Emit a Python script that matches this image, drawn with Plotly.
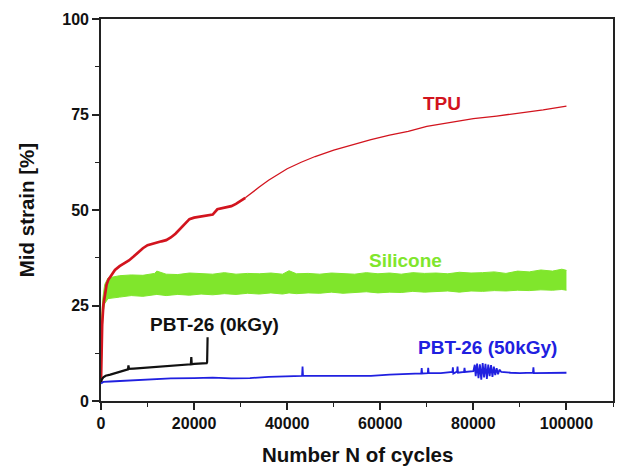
import plotly.graph_objects as go

# ---------------- data ----------------
tpu_noisy_x = [0, 100, 250, 500, 800, 1200, 1600, 2200, 3000, 4000, 5000, 6000, 7000, 8000,
               9000, 10000, 11000, 12000, 13000, 14000, 15000, 16000, 17000, 18000, 19000,
               20000, 21000, 22000, 23000, 24000, 25000, 26000, 27000, 28000, 29000, 30000, 31000]
tpu_noisy_y = [5, 14, 20, 25, 28, 30.5, 31.8, 33, 34.3, 35.3, 36, 36.8, 37.8, 39,
               40, 40.8, 41.2, 41.5, 41.8, 42.1, 42.8, 43.8, 45, 46.3, 47.6,
               48, 48.2, 48.4, 48.5, 48.8, 50.2, 50.5, 50.7, 51, 51.6, 52.3, 53.2]
tpu_smooth_x = [31000, 32000, 34000, 36000, 38000, 40000, 43000, 46000, 50000, 54000, 58000,
                62000, 66000, 70000, 75000, 80000, 85000, 90000, 95000, 100000]
tpu_smooth_y = [53.2, 54.2, 56, 57.8, 59.4, 60.8, 62.5, 64, 65.7, 67.1, 68.4,
                69.6, 70.6, 71.9, 73, 73.9, 74.6, 75.4, 76.2, 77.2]

sil_x = [0, 150, 400, 800, 1500, 4000, 6500, 9000, 11500, 12000, 14000, 16500, 19000, 21500,
         24000, 26500, 29000, 31500, 34000, 36500, 39000, 40400, 42000, 44500, 47000, 49500,
         52000, 54500, 57000, 59500, 62000, 64500, 67000, 69500, 72000, 74500, 77000, 79500,
         82000, 84500, 87000, 89500, 92000, 94500, 97000, 99000, 100000]
sil_hi = [5, 22, 27, 30.5, 32.2, 32.8, 33.0, 32.9, 33.4, 34.0, 33.2, 33.1, 33.5, 33.3,
          33.2, 33.6, 33.2, 33.4, 33.3, 33.5, 33.2, 34.1, 33.3, 33.4, 33.2, 33.5,
          33.3, 33.2, 33.6, 33.3, 33.5, 33.2, 33.6, 33.4, 33.5, 33.3, 33.7, 33.5,
          33.6, 33.8, 33.4, 34.0, 33.8, 34.3, 34.0, 34.5, 34.2]
sil_lo = [5, 16, 23, 25.5, 26.8, 27.2, 27.6, 27.4, 27.8, 27.9, 27.6, 27.9, 27.7, 28.0,
          27.8, 28.1, 27.9, 28.2, 28.0, 28.3, 28.0, 28.3, 28.1, 28.3, 28.2, 28.5,
          28.2, 28.4, 28.6, 28.3, 28.5, 28.4, 28.7, 28.5, 28.6, 28.8, 28.5, 28.8,
          28.7, 28.9, 28.8, 29.0, 28.9, 29.1, 29.0, 29.2, 29.0]

pbt0_x = [0, 150, 500, 1000, 2000, 3000, 4000, 5000, 5800, 5900, 6000, 7000, 8000, 9000,
          10000, 11000, 12000, 13000, 14000, 15000, 16000, 17000, 18000, 19300, 19400, 19500,
          20000, 21000, 22000, 22700, 22800, 22900]
pbt0_y = [5, 5.6, 6.2, 6.6, 6.9, 7.3, 7.7, 8.0, 8.3, 9.3, 8.4, 8.5, 8.6, 8.6,
          8.8, 8.9, 9.0, 9.0, 9.1, 9.3, 9.4, 9.4, 9.5, 9.6, 11.5, 9.6,
          9.7, 9.8, 9.8, 9.9, 10.2, 16.7]

pbt50_x = [0, 500, 2000, 5000, 10000, 15000, 20000, 24000, 28000, 32000, 36000, 40000,
           43200, 43300, 43400, 46000, 50000, 54000, 58000, 62000, 66000, 68800, 68900, 69000,
           70200, 70300, 70400, 73000, 75500, 75600, 75700, 76500, 76600, 76700, 78000, 78100,
           78200, 80000, 80300, 80500, 80800, 81100, 81400, 81700, 82000, 82300, 82600, 82900,
           83200, 83500, 83800, 84100, 84400, 84700, 85000, 85300, 85600, 86000, 88000, 90000,
           92800, 92900, 93000, 96000, 100000]
pbt50_y = [4.6, 5.0, 5.1, 5.3, 5.6, 5.9, 6.0, 6.1, 5.9, 6.0, 6.3, 6.5,
           6.6, 9.0, 6.6, 6.6, 6.6, 6.5, 6.6, 6.9, 7.1, 7.2, 8.6, 7.2,
           7.3, 8.7, 7.3, 7.3, 7.6, 8.8, 7.2, 7.7, 9.0, 7.4, 7.6, 8.7,
           7.6, 7.8, 9.5, 6.5, 9.8, 6.0, 9.6, 5.6, 9.9, 6.2, 9.7, 5.8,
           9.5, 6.5, 9.4, 6.3, 9.0, 6.8, 8.6, 7.0, 8.2, 7.6, 7.4, 7.3,
           7.4, 8.8, 7.3, 7.3, 7.4]

x_ticks = [0, 20000, 40000, 60000, 80000, 100000]
x_ticklabels = ["0", "20000", "40000", "60000", "80000", "100000"]
y_ticks = [0, 25, 50, 75, 100]
y_ticklabels = ["0", "25", "50", "75", "100"]

labels = [
    ("TPU", 73190, 78.0, "#D2141E"),
    ("Silicone", 65380, 36.7, "#80E62C"),
    ("PBT-26 (0kGy)", 24330, 19.9, "#111111"),
    ("PBT-26 (50kGy)", 83040, 14.0, "#2020E0"),
]

RED = "#D2141E"
GREEN = "#80E62C"
BLUE = "#2020E0"
BLACK = "#111111"
FONT = "Liberation Sans, Arial, sans-serif"

fig = go.Figure()

# Silicone noisy band (upper / lower envelopes)
fig.add_trace(go.Scatter(x=sil_x, y=sil_lo, mode="lines", line=dict(color=GREEN, width=1),
                         showlegend=False, hoverinfo="skip"))
fig.add_trace(go.Scatter(x=sil_x, y=sil_hi, mode="lines", line=dict(color=GREEN, width=1),
                         fill="tonexty", fillcolor=GREEN, showlegend=False))

# TPU
fig.add_trace(go.Scatter(x=tpu_noisy_x, y=tpu_noisy_y, mode="lines",
                         line=dict(color=RED, width=2.7), showlegend=False))
fig.add_trace(go.Scatter(x=tpu_smooth_x, y=tpu_smooth_y, mode="lines",
                         line=dict(color=RED, width=1.3), showlegend=False))

# PBT-26 (50kGy)
fig.add_trace(go.Scatter(x=pbt50_x, y=pbt50_y, mode="lines",
                         line=dict(color=BLUE, width=1.8), showlegend=False))
# PBT-26 (0kGy)
fig.add_trace(go.Scatter(x=pbt0_x, y=pbt0_y, mode="lines",
                         line=dict(color=BLACK, width=2.2), showlegend=False))

for text, lx, ly, col in labels:
    fig.add_annotation(x=lx, y=ly, xref="x", yref="y", text=text, showarrow=False,
                       font=dict(family=FONT, size=19, color=col, weight="bold"),
                       xanchor="center", yanchor="middle")

# axis titles
fig.add_annotation(x=0.5, y=-0.141, xref="paper", yref="paper", text="Number N of cycles",
                   showarrow=False, xanchor="center", yanchor="middle",
                   font=dict(family=FONT, size=20.5, color="#111", weight="bold"))
fig.add_annotation(x=-0.146, y=0.5, xref="paper", yref="paper", text="Mid strain [%]",
                   showarrow=False, xanchor="center", yanchor="middle", textangle=-90,
                   font=dict(family=FONT, size=20.5, color="#111", weight="bold"))

axis_common = dict(showgrid=False, zeroline=False, showline=True, linecolor="#222",
                   linewidth=1.6, mirror=True, ticks="outside", ticklen=7, tickwidth=1.5,
                   tickcolor="#222",
                   tickfont=dict(family=FONT, size=16, color="#111", weight="bold"))

fig.update_xaxes(range=[0, 110000], tickmode="array", tickvals=x_ticks, ticktext=x_ticklabels,
                 minor=dict(dtick=10000, tick0=0, ticklen=4, tickwidth=1.3, ticks="outside",
                            tickcolor="#222"),
                 **axis_common)
fig.update_yaxes(range=[0, 100], tickmode="array", tickvals=y_ticks, ticktext=y_ticklabels,
                 minor=dict(dtick=12.5, tick0=0, ticklen=4, tickwidth=1.3, ticks="outside",
                            tickcolor="#222"),
                 **axis_common)

fig.update_layout(width=619, height=467, margin=dict(l=101, r=4, t=19, b=66),
                  paper_bgcolor="white", plot_bgcolor="white")

fig.write_html("out.html")
